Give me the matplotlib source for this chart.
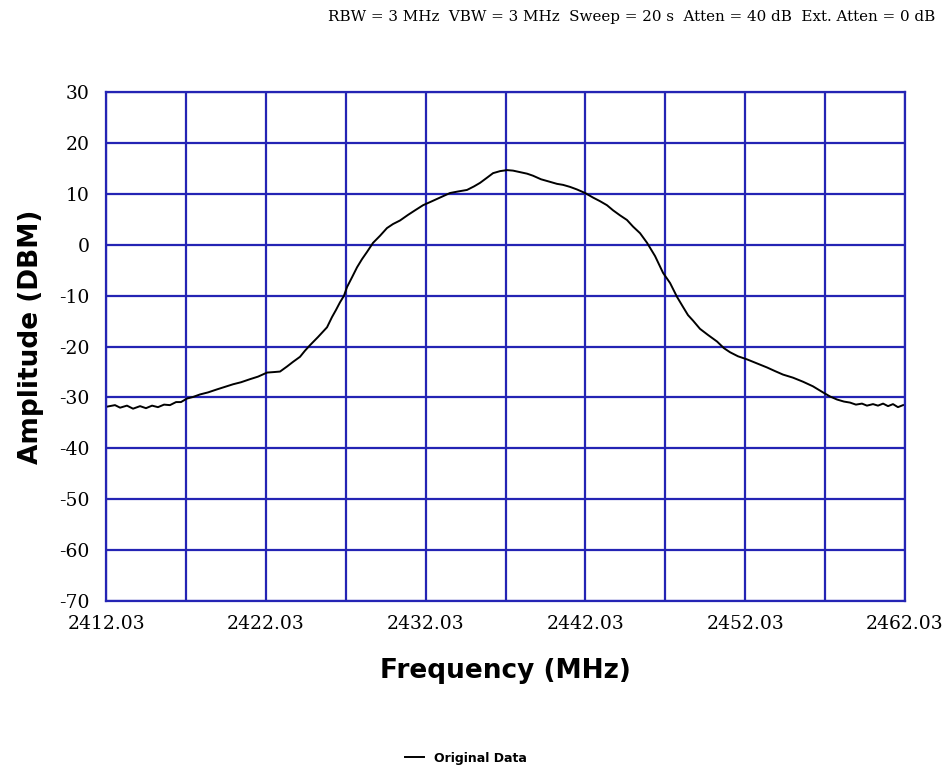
import numpy as np
import matplotlib.pyplot as plt

# trace
freq = [2412.09, 2412.59, 2412.91, 2413.34, 2413.72, 2414.16, 2414.53, 2414.91,
        2415.28, 2415.66, 2416.03, 2416.41, 2416.72, 2417.10, 2417.47, 2417.91,
        2418.41, 2418.98, 2419.48, 2419.98, 2420.48, 2421.04, 2421.54, 2422.11,
        2422.54, 2422.92, 2423.36, 2423.73, 2424.17, 2424.48, 2424.80, 2425.30,
        2425.86, 2426.17, 2426.42, 2426.67, 2426.92, 2427.11, 2427.42, 2427.74,
        2428.05, 2428.36, 2428.74, 2429.18, 2429.61, 2429.99, 2430.43, 2430.93,
        2431.37, 2431.87, 2432.37, 2432.93, 2433.56, 2434.06, 2434.62, 2435.06,
        2435.44, 2435.87, 2436.25, 2436.69, 2437.13, 2437.50, 2437.94, 2438.38,
        2438.75, 2439.25, 2439.81, 2440.25, 2440.63, 2441.07, 2441.50, 2442.01,
        2442.51, 2442.94, 2443.38, 2443.76, 2444.20, 2444.63, 2445.01, 2445.45,
        2445.89, 2446.39, 2446.89, 2447.33, 2447.76, 2448.14, 2448.45, 2448.77,
        2449.20, 2449.70, 2450.27, 2450.70, 2451.08, 2451.58, 2452.14, 2452.77,
        2453.40, 2453.89, 2454.40, 2455.02, 2455.65, 2456.27, 2456.90, 2457.34,
        2457.78, 2458.21, 2458.59, 2458.96, 2459.34, 2459.65, 2460.03, 2460.34,
        2460.66, 2460.97, 2461.28, 2461.59, 2461.91]
amp = [-31.8, -31.5, -32.0, -31.6, -32.2, -31.7, -32.1, -31.6,
       -31.9, -31.4, -31.5, -30.9, -30.9, -30.2, -29.9, -29.4,
       -29.0, -28.4, -27.9, -27.4, -27.0, -26.4, -25.9, -25.1,
       -25.0, -24.9, -23.9, -23.0, -22.0, -20.8, -19.7, -18.1,
       -16.2, -14.2, -12.8, -11.3, -10.0, -8.3, -6.4, -4.4,
       -2.8, -1.4, 0.4, 1.8, 3.3, 4.1, 4.8, 5.9,
       6.8, 7.8, 8.5, 9.3, 10.2, 10.5, 10.8, 11.5,
       12.2, 13.2, 14.1, 14.5, 14.7, 14.6, 14.3, 14.0,
       13.6, 12.9, 12.4, 12.0, 11.8, 11.4, 10.9, 10.2,
       9.3, 8.6, 7.8, 6.8, 5.8, 4.9, 3.6, 2.3,
       0.4, -2.2, -5.5, -7.5, -10.2, -12.2, -13.8, -14.9,
       -16.5, -17.7, -19.0, -20.3, -21.1, -21.9, -22.5, -23.3,
       -24.1, -24.8, -25.5, -26.1, -26.9, -27.8, -29.0, -29.8,
       -30.4, -30.8, -31.0, -31.4, -31.2, -31.6, -31.3, -31.6,
       -31.2, -31.7, -31.3, -31.9, -31.5]

xticks = [2412.03, 2422.03, 2432.03, 2442.03, 2452.03, 2462.03]
xminor = [2417.03, 2427.03, 2437.03, 2447.03, 2457.03]
yticks = [30, 20, 10, 0, -10, -20, -30, -40, -50, -60, -70]
header = "RBW = 3 MHz  VBW = 3 MHz  Sweep = 20 s  Atten = 40 dB  Ext. Atten = 0 dB"

grid_col = "#2424b4"
plt.rcParams["axes.unicode_minus"] = False

fig = plt.figure(figsize=(9.51, 7.69), dpi=100)
ax = fig.add_axes([0.1115, 0.2185, 0.8401, 0.6615])

ax.plot(freq, amp, color="black", lw=1.4, label="Original Data")

ax.set_xlim(2412.03, 2462.03)
ax.set_ylim(-70, 30)
ax.set_xticks(xticks)
ax.set_xticklabels(["%.2f" % v for v in xticks])
ax.set_xticks(xminor, minor=True)
ax.set_yticks(yticks)
ax.grid(True, which="both", color=grid_col, lw=1.6)
ax.set_axisbelow(True)
for s in ax.spines.values():
    s.set_color(grid_col)
    s.set_linewidth(1.6)
ax.tick_params(which="both", length=0)
ax.tick_params(axis="x", pad=10)
ax.tick_params(axis="y", pad=12)
for lab in ax.get_xticklabels() + ax.get_yticklabels():
    lab.set_family("DejaVu Serif")
    lab.set_fontsize(13.5)

ax.set_xlabel("Frequency (MHz)", fontsize=19, fontweight="bold", labelpad=18)
ax.set_ylabel("Amplitude (DBM)", fontsize=19, fontweight="bold")
ax.yaxis.set_label_coords(-0.078, 0.52)

fig.text(0.983, 0.978, header, ha="right", va="center", family="DejaVu Serif",
         fontsize=10.9)

fig.legend(loc="center", bbox_to_anchor=(0.49, 0.014), frameon=False,
           handlelength=1.5, prop={"weight": "bold", "size": 9})

fig.savefig("out.png", dpi=100)
